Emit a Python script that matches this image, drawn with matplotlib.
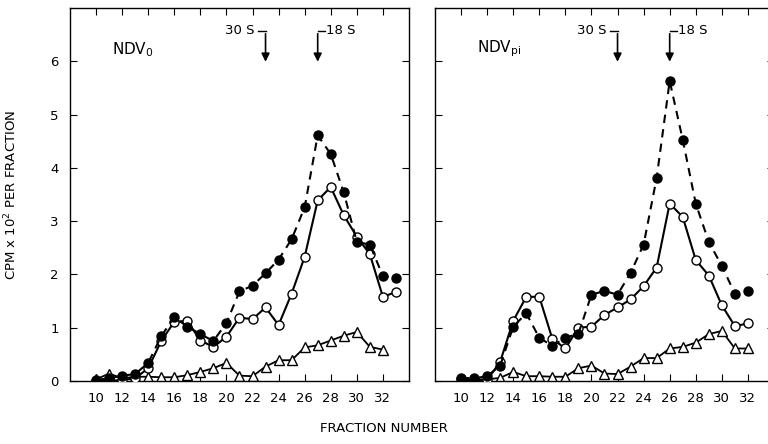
import matplotlib
matplotlib.use("Agg")
import matplotlib.pyplot as plt

fractions_left = list(range(10, 34))
fractions_right = list(range(10, 33))

# NDV_0 panel
filled_left = [0.02, 0.05, 0.10, 0.13, 0.34, 0.84, 1.20, 1.02, 0.88, 0.75, 1.09, 1.68,
               1.79, 2.02, 2.28, 2.66, 3.26, 4.61, 4.26, 3.54, 2.61, 2.56, 1.97, 1.93]
open_left = [0.00, 0.00, 0.02, 0.05, 0.24, 0.75, 1.11, 1.13, 0.76, 0.64, 0.83, 1.19,
             1.16, 1.38, 1.05, 1.64, 2.33, 3.39, 3.64, 3.11, 2.71, 2.38, 1.58, 1.67]
tri_left = [0.03, 0.14, 0.05, 0.08, 0.08, 0.07, 0.07, 0.11, 0.17, 0.24, 0.34, 0.10,
            0.09, 0.27, 0.39, 0.39, 0.63, 0.67, 0.76, 0.85, 0.92, 0.64, 0.59]

# NDV_pi panel
filled_right = [0.06, 0.05, 0.09, 0.29, 1.02, 1.27, 0.81, 0.66, 0.81, 0.89, 1.62, 1.69,
                1.62, 2.03, 2.56, 3.81, 5.63, 4.53, 3.33, 2.61, 2.16, 1.64, 1.69]
open_right = [0.03, 0.00, 0.02, 0.36, 1.13, 1.58, 1.58, 0.79, 0.61, 1.00, 1.02, 1.24,
              1.38, 1.53, 1.78, 2.13, 3.33, 3.08, 2.27, 1.98, 1.42, 1.03, 1.08]
tri_right = [0.03, 0.03, 0.03, 0.06, 0.17, 0.09, 0.09, 0.08, 0.08, 0.24, 0.29, 0.14,
             0.13, 0.27, 0.43, 0.43, 0.61, 0.64, 0.72, 0.88, 0.94, 0.61, 0.61]

markers_30s = [23, 22]
markers_18s = [27, 26]
panel_names = ["NDV$_0$", "NDV$_{\\rm pi}$"]

fig = plt.figure(figsize=(7.68, 4.44), dpi=100)
ax1 = fig.add_axes([0.0911, 0.1419, 0.4414, 0.840])
ax2 = fig.add_axes([0.5664, 0.1419, 0.4414, 0.840])

panels = [
    (ax1, fractions_left, filled_left, open_left, tri_left),
    (ax2, fractions_right, filled_right, open_right, tri_right),
]

for i, (ax, xs, filled, opened, tri) in enumerate(panels):
    ax.plot(xs[:len(tri)], tri, "-", color="black", lw=1.3, marker="^", ms=6.5,
            mfc="white", mec="black", mew=1.0, zorder=2)
    ax.plot(xs, opened, "-", color="black", lw=1.5, marker="o", ms=6.5,
            mfc="white", mec="black", mew=1.0, zorder=3)
    ax.plot(xs, filled, "--", color="black", lw=1.5, marker="o", ms=6.5,
            mfc="black", mec="black", dashes=(4, 3), zorder=4)

    ax.set_xlim(8, 34)
    ax.set_ylim(0, 7)
    ax.set_xticks(range(10, 33, 2))
    ax.set_yticks(range(0, 7))
    ax.tick_params(direction="in", top=True, right=True, length=5, width=0.8,
                   labelsize=9.5, pad=8)
    for s in ax.spines.values():
        s.set_linewidth(1.0)

    # sedimentation markers
    x30 = markers_30s[i]
    x18 = markers_18s[i]
    ax.annotate("", xy=(x30, 5.94), xytext=(x30, 6.57),
                arrowprops=dict(arrowstyle="-|>", color="black", lw=1.2, mutation_scale=12))
    ax.plot([x30 - 0.55, x30], [6.57, 6.57], color="black", lw=1.0)
    ax.text(x30 - 0.85, 6.57, "30 S", ha="right", va="center", fontsize=9.5)
    ax.annotate("", xy=(x18, 5.94), xytext=(x18, 6.57),
                arrowprops=dict(arrowstyle="-|>", color="black", lw=1.2, mutation_scale=12))
    ax.plot([x18, x18 + 0.55], [6.57, 6.57], color="black", lw=1.0)
    ax.text(x18 + 0.65, 6.57, "18 S", ha="left", va="center", fontsize=9.5)

    ax.text(11.2, 6.05, panel_names[i], fontsize=11, ha="left", va="bottom")

ax2.set_yticklabels([])
ax1.set_ylabel("CPM x 10$^2$ PER FRACTION", fontsize=9.5, labelpad=22)
fig.text(0.5, 0.035, "FRACTION NUMBER", ha="center", va="center", fontsize=9.5)

fig.savefig("out.png", dpi=100)
